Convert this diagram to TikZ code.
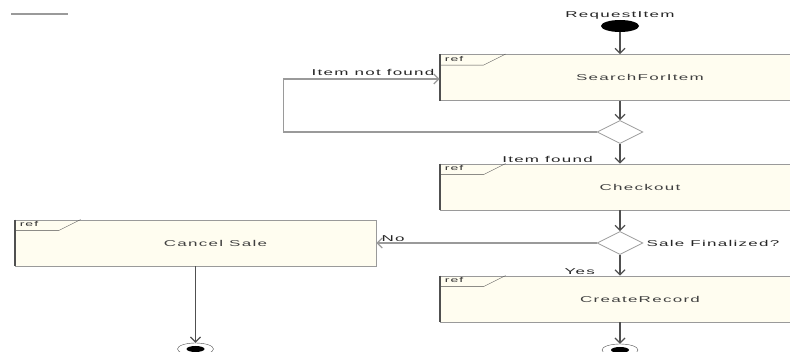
\documentclass[tikz,border=0pt]{standalone}
\usepackage{fontspec}
\setmainfont{Liberation Sans}
\newfontfamily\umlfont[FakeStretch=2.0,LetterSpace=15]{Liberation Sans}
\usepackage{tikz}
\usetikzlibrary{shapes.geometric, arrows.meta, positioning}
\definecolor{boxfill}{HTML}{FFFDF0}
\definecolor{edgegray}{HTML}{9A9A9A}
\definecolor{linegray}{HTML}{505050}
\tikzstyle{refbox}  = [rectangle, draw=edgegray, fill=boxfill, minimum height=46,
                       inner sep=0pt, thick]
\tikzstyle{boxtext} = [font=\umlfont\fontsize{8.5}{9}\selectfont, text=black!75, xshift=20pt]
\tikzstyle{lbl}     = [font=\umlfont\fontsize{8.5}{9}\selectfont, text=black!85, inner sep=1pt]
\tikzstyle{reflbl}  = [font=\umlfont\fontsize{7}{7}\selectfont, text=black!80, inner sep=1pt]
\tikzstyle{choice}  = [diamond, draw=edgegray, fill=white, aspect=2, minimum width=46,
                       minimum height=23, inner sep=0pt, thick]
\tikzstyle{start}   = [ellipse, fill=black, minimum width=38, minimum height=12, inner sep=0pt]
\tikzstyle{final}   = [ellipse, draw=linegray, minimum width=36, minimum height=12, inner sep=0pt,
                       path picture={\fill[black] (path picture bounding box.center) ellipse (9pt and 3pt);}]
\tikzstyle{arrow}   = [-{Straight Barb[length=5pt, width=10pt]}, linegray, line width=1.2pt]
\tikzstyle{flow}    = [edgegray, line width=1.2pt]
% left bar and "ref" tab of a ref box
\newcommand{\reftab}[1]{%
  \draw[linegray, line width=2pt] (#1.north west) -- (#1.south west);
  \draw[linegray] ([yshift=-11pt]#1.north west) -- ++(44,0) -- ++(22,-11);
  \node[reflbl, anchor=north west] (#1-ref) at ([xshift=4pt,yshift=-1pt]#1.north west) {ref};}

\begin{document}
\begin{tikzpicture}[x=1pt, y=-1pt]
  \useasboundingbox (0,0) rectangle (790,352);
  \draw[edgegray, line width=1.5pt] (11,14) -- (68,14);

  \node[start] (init) at (620,26) {};
  \node[lbl, above=-1pt of init] (req) {RequestItem};

  \node[refbox, minimum width=360, label={[boxtext]center:SearchForItem}] (search) at (620,77.5) {};
  \node[choice] (dec1) at (620,132) {};
  \node[refbox, minimum width=360, label={[boxtext]center:Checkout}] (checkout) at (620,187) {};
  \node[choice] (dec2) at (620,243) {};
  \node[refbox, minimum width=360, label={[boxtext]center:CreateRecord}] (record) at (620,299) {};
  \node[refbox, minimum width=361, label={[boxtext]center:Cancel Sale}] (cancel) at (195.5,243) {};
  \node[final] (end1) at (195.5,349) {};
  \node[final] (end2) at (620,350) {};

  \reftab{search}
  \reftab{checkout}
  \reftab{record}
  \reftab{cancel}

  \node[lbl, above left=1pt and 4pt of search.west] (notfound) {Item not found};
  \node[lbl, above left=0pt and 26pt of checkout.north] (found) {Item found};
  \node[lbl, right=2pt of dec2] (salefin) {Sale Finalized?};
  \node[lbl, above left=0pt and 24pt of record.north] (yes) {Yes};
  \node[lbl, above right=0pt and 4pt of cancel.east] (no) {No};

  \draw[arrow] (init) -- (search);
  \draw[arrow] (search) -- (dec1);
  \draw[arrow] (dec1) -- (checkout);
  \draw[arrow] (checkout) -- (dec2);
  \draw[arrow] (dec2) -- (record);
  \draw[arrow] (record) -- (end2);
  \draw[arrow] (cancel) -- (end1);
  \draw[flow, -{Straight Barb[length=5pt, width=10pt]}] (dec2) -- (cancel);
  \draw[flow, -{Straight Barb[length=5pt, width=10pt]}] (dec1.west) -- ++(-313,0) |- ([yshift=-1.5pt]search.west);
\end{tikzpicture}
\end{document}
